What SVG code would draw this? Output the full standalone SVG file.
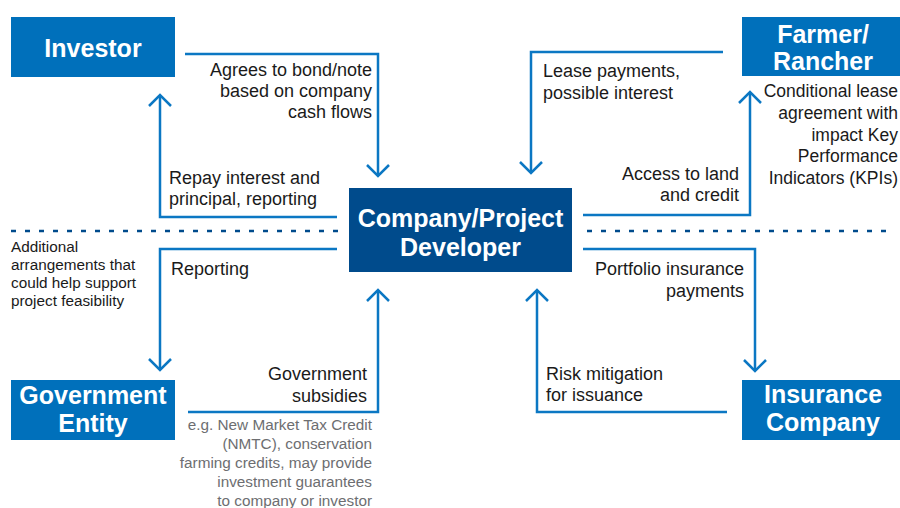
<svg xmlns="http://www.w3.org/2000/svg" width="900" height="508" viewBox="0 0 900 508">
<defs>
<style>
.box{fill:#0070bb}
.main{fill:#004b8c}
.hd{font-family:"Liberation Sans",Arial,sans-serif;font-weight:bold;font-size:25px;fill:#fff;text-anchor:middle}
.lb{font-family:"Liberation Sans",Arial,sans-serif;font-size:18px;fill:#1a1a1a}
.fd{font-family:"Liberation Sans",Arial,sans-serif;font-size:17.5px;fill:#1a1a1a;text-anchor:end}
.note{font-family:"Liberation Sans",Arial,sans-serif;font-size:15.3px;fill:#1a1a1a}
.gray{font-family:"Liberation Sans",Arial,sans-serif;font-size:15.3px;fill:#6d6e71;text-anchor:end}
.end{text-anchor:end}
.conn{fill:none;stroke:#0b77c3;stroke-width:2.5;marker-end:url(#chev)}
.dash{fill:none;stroke:#004b8c;stroke-width:2.5;stroke-dasharray:5 9}
</style>
<marker id="chev" markerUnits="userSpaceOnUse" viewBox="-13 -13 15 26" refX="0" refY="0" markerWidth="15" markerHeight="26" orient="auto">
<path d="M-11,-11 L0,0 L-11,11" fill="none" stroke="#0b77c3" stroke-width="2.5"/>
</marker>
</defs>
<rect width="900" height="508" fill="#fff"/>
<g id="divider">
<path class="dash" d="M11,231 H342"/>
<path class="dash" d="M587,231 H892"/>
</g>
<g id="connectors">
<path class="conn" d="M185,54 H378 V176"/>
<path class="conn" d="M337,217 H160 V95"/>
<path class="conn" d="M723,52 H531 V173"/>
<path class="conn" d="M583,215 H750 V92"/>
<path class="conn" d="M337,249 H160 V370"/>
<path class="conn" d="M188,412 H378 V290"/>
<path class="conn" d="M583,249 H755 V371"/>
<path class="conn" d="M727,412 H537 V290"/>
</g>
<g id="labels">
<text class="lb end" x="372" y="76">Agrees to bond/note</text>
<text class="lb end" x="372" y="97">based on company</text>
<text class="lb end" x="372" y="118">cash flows</text>
<text class="lb" x="169" y="184">Repay interest and</text>
<text class="lb" x="169" y="205">principal, reporting</text>
<text class="lb" x="543" y="77">Lease payments,</text>
<text class="lb" x="543" y="99">possible interest</text>
<text class="lb end" x="739" y="180">Access to land</text>
<text class="lb end" x="739" y="201">and credit</text>
<text class="lb" x="171" y="275">Reporting</text>
<text class="lb end" x="367" y="380">Government</text>
<text class="lb end" x="367" y="402">subsidies</text>
<text class="lb end" x="744" y="275">Portfolio insurance</text>
<text class="lb end" x="744" y="297">payments</text>
<text class="lb" x="546" y="380">Risk mitigation</text>
<text class="lb" x="546" y="401">for issuance</text>
<text class="note" x="11" y="252">Additional</text>
<text class="note" x="11" y="270">arrangements that</text>
<text class="note" x="11" y="288">could help support</text>
<text class="note" x="11" y="306">project feasibility</text>
<text class="gray" x="372" y="430">e.g. New Market Tax Credit</text>
<text class="gray" x="372" y="449">(NMTC), conservation</text>
<text class="gray" x="372" y="468">farming credits, may provide</text>
<text class="gray" x="372" y="487">investment guarantees</text>
<text class="gray" x="372" y="506">to company or investor</text>
<text class="fd" x="898" y="97">Conditional lease</text>
<text class="fd" x="898" y="119">agreement with</text>
<text class="fd" x="898" y="141">impact Key</text>
<text class="fd" x="898" y="162">Performance</text>
<text class="fd" x="898" y="184">Indicators (KPIs)</text>
</g>
<g id="investor">
<rect class="box" x="11" y="17" width="164" height="60"/>
<text class="hd" x="93" y="57">Investor</text>
</g>
<g id="farmer">
<rect class="box" x="742" y="17" width="170" height="59"/>
<text class="hd" x="823" y="43">Farmer/</text>
<text class="hd" x="823" y="70">Rancher</text>
</g>
<g id="company">
<rect class="main" x="349" y="188" width="223" height="84"/>
<text class="hd" x="460.5" y="227">Company/Project</text>
<text class="hd" x="460.5" y="256">Developer</text>
</g>
<g id="government">
<rect class="box" x="11" y="380" width="164" height="60"/>
<text class="hd" x="93" y="404">Government</text>
<text class="hd" x="93" y="432">Entity</text>
</g>
<g id="insurance">
<rect class="box" x="742" y="380" width="170" height="60"/>
<text class="hd" x="823" y="403">Insurance</text>
<text class="hd" x="823" y="431">Company</text>
</g>
</svg>
